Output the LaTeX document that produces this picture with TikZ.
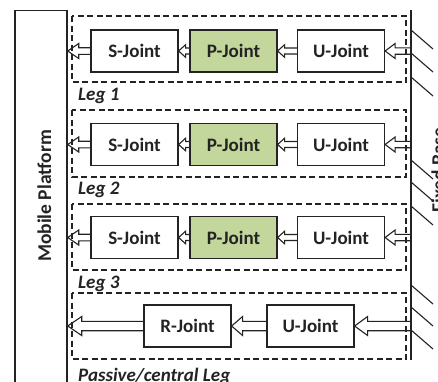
\documentclass[tikz,border=0pt]{standalone}
\usepackage{fontspec}
\setmainfont{Carlito}
\usetikzlibrary{calc}
\definecolor{pgreen}{RGB}{195,214,155}
\definecolor{ink}{RGB}{35,35,35}
\newcommand\blockarr[5]{%
  \draw[arrline] let \p1=(#1), \p2=(#2) in
    (\x1,\y1+#3) -- (\x2+#5,\y1+#3) -- (\x2+#5,\y1+#4) -- (\x2,\y1)
    -- (\x2+#5,\y1-#4) -- (\x2+#5,\y1-#3) -- (\x1,\y1-#3);}
\tikzset{
  joint/.style={draw=ink, line width=1.2pt, fill=white, minimum width=87pt, minimum height=42pt,
    inner sep=0pt, text=ink, font=\bfseries\fontsize{19}{19}\selectfont},
  pjoint/.style={joint, fill=pgreen},
  legbox/.style={draw=ink, line width=1.1pt, dash pattern=on 6pt off 3.5pt},
  leglabel/.style={anchor=base west, inner sep=0pt, text=ink,
    font=\bfseries\itshape\fontsize{19}{19}\selectfont},
  arrline/.style={draw=ink, line width=1.1pt, line join=miter},
  hatch/.style={draw=ink, line width=1.1pt},
  bigtext/.style={text=ink, inner sep=0pt, font=\bfseries\fontsize{19.5}{19.5}\selectfont}
}
\begin{document}
\begin{tikzpicture}[x=1pt,y=-1pt]
\useasboundingbox (0,0) rectangle (438,381);
\fill[white] (0,0) rectangle (438,381);
\clip (0,0) rectangle (438,381);

% mobile platform
\node[draw=ink, line width=1.4pt, minimum width=52pt, minimum height=400pt, inner sep=0pt,
  anchor=north] (MP) at (41,10) {};
\node[bigtext, rotate=90, anchor=base] (MPt) at (51,196) {Mobile Platform};

% fixed base
\coordinate (FBt) at (411,10);
\coordinate (FBb) at (411,360);
\draw[draw=ink, line width=1.4pt] (FBt) -- (FBb);
\foreach \y in {30,53,77,160,182,206,285,307,330}
  \draw[hatch] (411,\y) -- ++(22,19);
\node[bigtext, rotate=90, anchor=base] (FBtxt) at (445,170) {Fixed Base};

% leg boxes
\draw[legbox] (72,16) rectangle (406,82);
\draw[legbox] (72,110) rectangle (406,177);
\draw[legbox] (72,204) rectangle (406,270);
\draw[legbox] (72,293) rectangle (406,359);

\node[leglabel] (lab1) at (78,100) {Leg 1};
\node[leglabel] (lab2) at (78,194) {Leg 2};
\node[leglabel] (lab3) at (78,288) {Leg 3};
\node[leglabel] (lab4) at (78,381) {Passive/central Leg};

% joints
\foreach \i/\y in {1/51, 2/144.5, 3/237.5}{
  \node[joint]  (S\i) at (134.5,\y) {S-Joint};
  \node[pjoint] (P\i) at (233.5,\y) {P-Joint};
  \node[joint]  (U\i) at (341,\y)   {U-Joint};
  \coordinate (b\i) at (411,\y);
}
\node[joint] (R4) at (187.5,326) {R-Joint};
\node[joint] (U4) at (310.5,326) {U-Joint};
\coordinate (b4) at (411,326);

% arrows
\foreach \i in {1,2,3}{
  \blockarr{b\i}{U\i.east}{3.2pt}{7.5pt}{10pt}
  \blockarr{U\i.west}{P\i.east}{3pt}{6.3pt}{7pt}
  \blockarr{P\i.west}{S\i.east}{3pt}{6.3pt}{7pt}
  \blockarr{S\i.west}{MP.east}{3.3pt}{7.5pt}{11pt}
}
\blockarr{b4}{U4.east}{4.7pt}{9.5pt}{13pt}
\blockarr{U4.west}{R4.east}{4.7pt}{9.5pt}{11pt}
\blockarr{R4.west}{MP.east}{4.7pt}{9.5pt}{14pt}
\end{tikzpicture}
\end{document}
